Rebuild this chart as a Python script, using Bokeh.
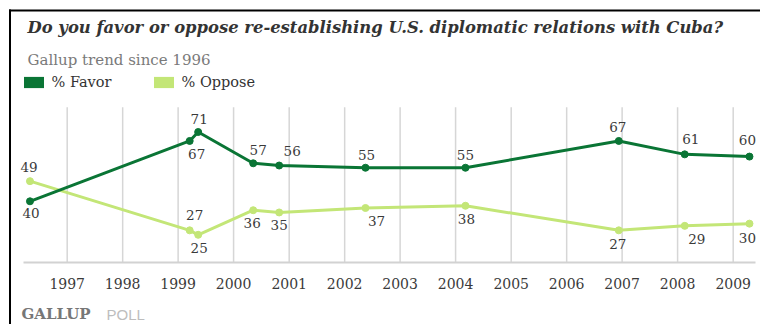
import pandas as pd
from datetime import datetime, timedelta
from bokeh.plotting import figure
from bokeh.models import (Range1d, FixedTicker, DatetimeTickFormatter, Label,
                          Legend, LegendItem, ColumnDataSource)
from bokeh.core.properties import value
from bokeh.embed import file_html
from bokeh.resources import INLINE

# ---------------- data ----------------
poll_dates = ["1996-05-01", "1999-03-18", "1999-05-13", "2000-05-09", "2000-10-27",
              "2002-05-18", "2004-03-06", "2006-12-10", "2008-02-17", "2009-04-18"]
favor = [40, 67, 71, 57, 56, 55, 55, 67, 61, 60]
oppose = [49, 27, 25, 36, 35, 37, 38, 27, 29, 30]
tick_years = [1997, 1998, 1999, 2000, 2001, 2002, 2003, 2004, 2005, 2006, 2007, 2008, 2009]
series_names = ["% Favor", "% Oppose"]
title_text = "Do you favor or oppose re-establishing U.S. diplomatic relations with Cuba?"
subtitle_text = "Gallup trend since 1996"
footer_main = "GALLUP"
footer_light = "POLL"

# ---------------- layout helpers (pixel <-> data) ----------------
W, H = 760, 324
X_ORIGIN = datetime(1997, 1, 1)
X_ORIGIN_PX = 66.7
PX_PER_DAY = 666.0 / 4383.0
Y_REF_V, Y_REF_PX, PX_PER_UNIT = 71.0, 131.5, 2.235


def xdata(px):
    return X_ORIGIN + timedelta(days=(px - X_ORIGIN_PX) / PX_PER_DAY)


def ydata(py):
    return Y_REF_V + (Y_REF_PX - py) / PX_PER_UNIT


FAVOR_C = "#0a7535"
OPPOSE_C = "#c3e677"
SERIF = "DejaVu Serif"
BASE_FIX = 5  # alphabetic-baseline correction for screen labels

dates = pd.to_datetime(poll_dates)
tick_ms = [(pd.Timestamp(f"{y}-01-01") - pd.Timestamp("1970-01-01")) // pd.Timedelta("1ms")
           for y in tick_years]
tick_dates = pd.to_datetime([f"{y}-01-01" for y in tick_years])

p = figure(width=W, height=H, output_backend="svg", toolbar_location=None,
           x_axis_type="datetime", y_axis_location=None, title_location=None,
           x_range=Range1d(xdata(0), xdata(W)), y_range=Range1d(ydata(H), ydata(0)),
           min_border=0, min_border_left=0, min_border_right=0,
           min_border_top=0, min_border_bottom=0)
p.outline_line_color = None
p.background_fill_color = "white"
p.border_fill_color = "white"
for g in p.grid:
    g.visible = False

baseline_v = ydata(261.7)
grid_top_v = ydata(106.7)

# vertical year gridlines
p.segment(x0=tick_dates, y0=[baseline_v] * len(tick_years), x1=tick_dates,
          y1=[grid_top_v] * len(tick_years), line_color="#d6d6d6", line_width=1.5)

# x axis pinned at baseline
ax = p.xaxis[0]
ax.fixed_location = baseline_v
ax.bounds = (xdata(23), xdata(755))
ax.ticker = FixedTicker(ticks=tick_ms)
fmt = "%Y"
ax.formatter = DatetimeTickFormatter(milliseconds=fmt, seconds=fmt, minsec=fmt, minutes=fmt,
                                     hourmin=fmt, hours=fmt, days=fmt, months=fmt, years=fmt)
ax.axis_line_color = "#d2d2d2"
ax.axis_line_width = 2
ax.major_tick_line_color = None
ax.minor_tick_line_color = None
ax.major_tick_out = 0
ax.major_tick_in = 0
ax.minor_tick_out = 0
ax.minor_tick_in = 0
ax.major_label_standoff = 16
ax.major_label_text_font = SERIF
ax.major_label_text_font_size = "14px"
ax.major_label_text_color = "#3a3a3a"

# series
src = ColumnDataSource(dict(x=dates, favor=favor, oppose=oppose))
p.line("x", "oppose", source=src, line_color=OPPOSE_C, line_width=3)
p.scatter("x", "oppose", source=src, size=7, color=OPPOSE_C)
p.line("x", "favor", source=src, line_color=FAVOR_C, line_width=3)
p.scatter("x", "favor", source=src, size=7, color=FAVOR_C)

# value labels (placement offsets in px, as in the original layout)
fav_dx = [1, 7, 1, 5, 13, 1, 0, -1, 6, -2]
fav_dy = [12, 13, -13, -13, -15, -13, -13, -14, -15, -17]
opp_dx = [-1, 5, 1, -1, 0, 11, 1, -1, 12, -2]
opp_dy = [-14, -15, 13, 13, 13, 13, 13, 14, 13, 14]
lab_src = ColumnDataSource(dict(x=list(dates) + list(dates), y=favor + oppose,
                                t=[str(v) for v in favor + oppose],
                                dx=fav_dx + opp_dx, dy=fav_dy + opp_dy))
p.text("x", "y", text="t", x_offset="dx", y_offset="dy", source=lab_src,
       text_align="center", text_baseline="middle", text_font=value(SERIF),
       text_font_size="13.5px", text_color="#3a3a3a")

# frame border (top and left)
p.line([xdata(8.5), xdata(W)], [ydata(10), ydata(10)], line_color="black", line_width=2)
p.line([xdata(9.5), xdata(9.5)], [ydata(9), ydata(H)], line_color="black", line_width=2)

# titles
p.add_layout(Label(x=27, y=H - 31.7 + BASE_FIX, x_units="screen", y_units="screen",
                   text=title_text, text_font=SERIF, text_font_style="bold italic",
                   text_font_size="16.4px", text_color="#333333", text_baseline="alphabetic"))
p.add_layout(Label(x=27, y=H - 64.5 + BASE_FIX, x_units="screen", y_units="screen",
                   text=subtitle_text, text_font=SERIF, text_font_size="15px",
                   text_color="#7a7a7a", text_baseline="alphabetic"))
p.add_layout(Label(x=21, y=H - 318.5 + BASE_FIX, x_units="screen", y_units="screen",
                   text=footer_main, text_font=SERIF, text_font_style="bold",
                   text_font_size="15px", text_color="#777777", text_baseline="alphabetic"))
p.add_layout(Label(x=106, y=H - 318.5 + BASE_FIX, x_units="screen", y_units="screen",
                   text=footer_light, text_font="Liberation Sans", text_font_size="15px",
                   text_color="#bdbdbd", text_baseline="alphabetic"))

# legend swatches: zero-area quads on the series (invisible in the plot, filled box in legend)
sw_f = p.quad(left="x", right="x", top="favor", bottom="favor", source=src,
              fill_color=FAVOR_C, line_color=None)
sw_o = p.quad(left="x", right="x", top="oppose", bottom="oppose", source=src,
              fill_color=OPPOSE_C, line_color=None)
for rend, name, lx in [(sw_f, series_names[0], 20.5), (sw_o, series_names[1], 150.5)]:
    lg = Legend(items=[LegendItem(label=name, renderers=[rend])], location=(lx, 234),
                orientation="horizontal", padding=0, margin=0, spacing=0,
                glyph_width=25, glyph_height=14, label_height=14, label_standoff=6,
                border_line_color=None, background_fill_alpha=0,
                label_text_font=SERIF, label_text_font_size="14.5px",
                label_text_color="#333333")
    p.add_layout(lg)

open("out.html", "w").write(file_html(p, INLINE))
